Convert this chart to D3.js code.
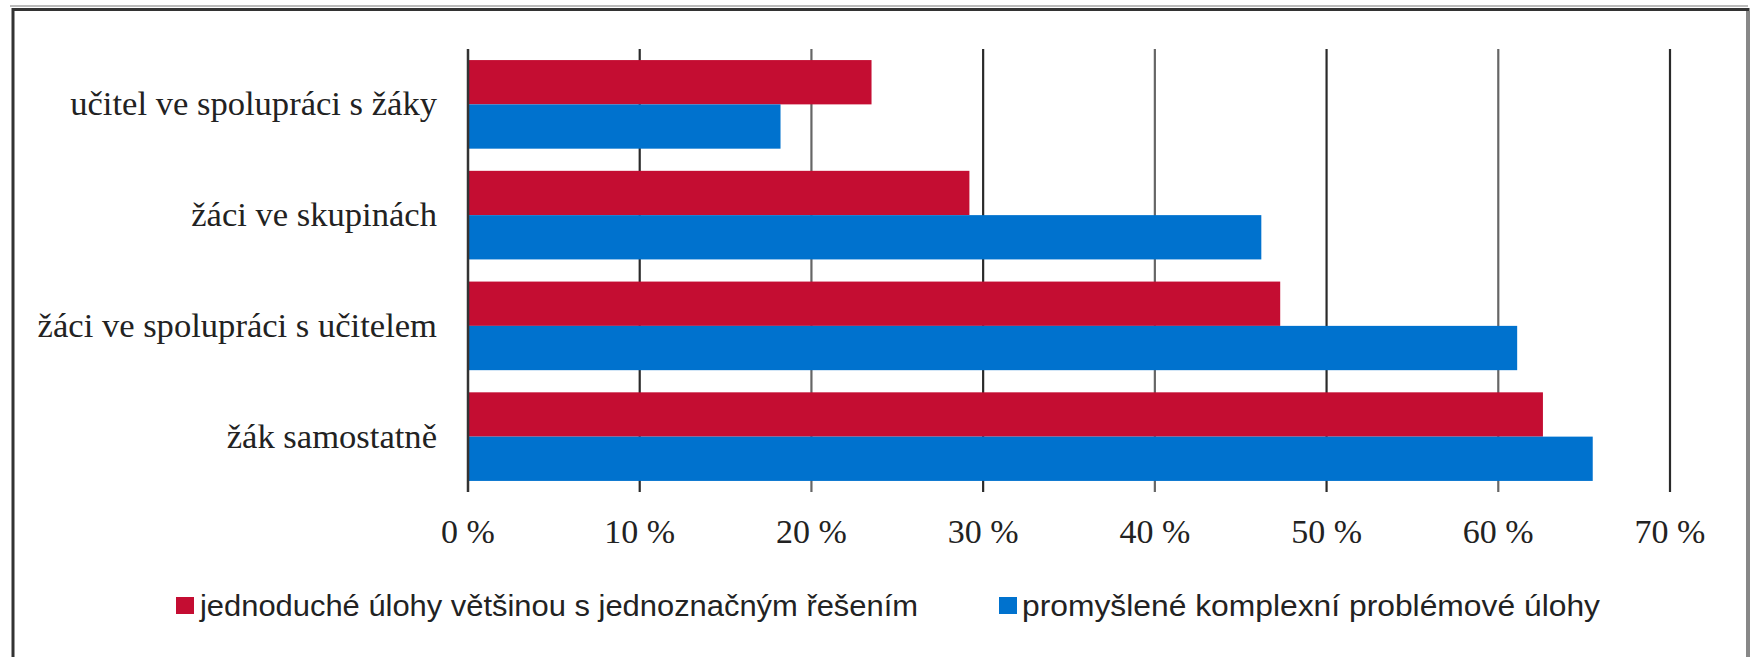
<!DOCTYPE html>
<html>
<head>
<meta charset="utf-8">
<script src="https://cdn.jsdelivr.net/npm/d3@7"></script>
<style>
  html, body { margin: 0; padding: 0; background: #fff; }
  svg { display: block; }
</style>
</head>
<body>
<svg id="chart" width="1752" height="657"></svg>
<script>
const categories = [
  "učitel ve spolupráci s žáky",
  "žáci ve skupinách",
  "žáci ve spolupráci s učitelem",
  "žák samostatně"
];
const seriesNames = [
  "jednoduché úlohy většinou s jednoznačným řešením",
  "promyšlené komplexní problémové úlohy"
];
const simpleTasks = [23.5, 29.2, 47.3, 62.6];
const complexTasks = [18.2, 46.2, 61.1, 65.5];
const tickValues = [0, 10, 20, 30, 40, 50, 60, 70];
const tickLabels = ["0 %", "10 %", "20 %", "30 %", "40 %", "50 %", "60 %", "70 %"];
const colors = ["#C40D32", "#0072CE"];

(function () {
const svg = d3.select("#chart");
const W = 1752, H = 657;
const plotLeft = 468, plotRight = 1670, plotTop = 49, plotBottom = 492;

// frame
svg.append("line").attr("x1", 10).attr("x2", 1748).attr("y1", 6).attr("y2", 6)
  .attr("stroke", "#bbb").attr("stroke-width", 2);
svg.append("path")
  .attr("d", `M13,${H + 5} L13,9.5 L1748,9.5 L1748,${H + 5}`)
  .attr("fill", "none").attr("stroke", "#333").attr("stroke-width", 3);
svg.append("line").attr("x1", 1748).attr("x2", 1748).attr("y1", 11).attr("y2", H)
  .attr("stroke", "#888").attr("stroke-width", 4);

const x = d3.scaleLinear().domain([0, 70]).range([plotLeft, plotRight]);
const y = d3.scaleBand().domain(categories).range([plotTop, plotBottom])
  .paddingInner(0.2).paddingOuter(0.1);
const y1 = d3.scaleBand().domain([0, 1]).range([0, y.bandwidth()]);

// gridlines
svg.append("g").selectAll("line").data(tickValues.slice(1)).join("line")
  .attr("x1", d => x(d)).attr("x2", d => x(d))
  .attr("y1", plotTop).attr("y2", plotBottom)
  .attr("stroke", (d, i) => i % 2 === 0 ? "#2a2a2a" : "#666")
  .attr("stroke-width", 2.2);

// bars
const data = categories.map((c, i) => ({ c, v: [simpleTasks[i], complexTasks[i]] }));
const g = svg.append("g").selectAll("g").data(data).join("g")
  .attr("transform", d => `translate(0,${y(d.c)})`);
g.selectAll("rect").data(d => d.v.map((v, k) => ({ v, k }))).join("rect")
  .attr("x", x(0))
  .attr("y", d => y1(d.k))
  .attr("width", d => x(d.v) - x(0))
  .attr("height", y1.bandwidth())
  .attr("fill", d => colors[d.k]);

// axis line
svg.append("line").attr("x1", x(0)).attr("x2", x(0)).attr("y1", plotTop).attr("y2", plotBottom)
  .attr("stroke", "#333").attr("stroke-width", 2.5);

// x tick labels
svg.append("g").selectAll("text").data(tickValues).join("text")
  .attr("x", d => x(d)).attr("y", 543)
  .attr("text-anchor", "middle")
  .attr("font-family", "'Liberation Serif', 'Times New Roman', serif")
  .attr("font-size", 34)
  .attr("fill", "#222")
  .text((d, i) => tickLabels[i]);

// category labels
svg.append("g").selectAll("text").data(categories).join("text")
  .attr("x", 437)
  .attr("y", d => y(d) + y.bandwidth() / 2)
  .attr("dy", "0.32em")
  .attr("text-anchor", "end")
  .attr("font-family", "'Liberation Serif', 'Times New Roman', serif")
  .attr("font-size", 34.6)
  .attr("fill", "#222")
  .text(d => d);

// legend
const legendItems = [
  { name: seriesNames[0], color: colors[0], sx: 176, tx: 200, len: 718 },
  { name: seriesNames[1], color: colors[1], sx: 999, tx: 1022, len: 578 }
];
const lg = svg.append("g").selectAll("g").data(legendItems).join("g");
lg.append("rect").attr("x", d => d.sx).attr("y", 597).attr("width", 18).attr("height", 17)
  .attr("fill", d => d.color);
lg.append("text").attr("x", d => d.tx).attr("y", 616)
  .attr("font-family", "'Liberation Sans Narrow', 'Arial Narrow', 'Liberation Sans', sans-serif")
  .attr("font-size", 30)
  .attr("fill", "#222")
  .attr("textLength", d => d.len)
  .attr("lengthAdjust", "spacingAndGlyphs")
  .text(d => d.name);
})();
</script>
</body>
</html>
